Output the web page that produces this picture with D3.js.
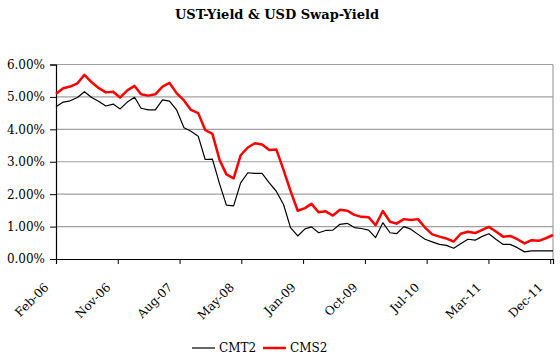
<!DOCTYPE html>
<html><head><meta charset="utf-8">
<script src="https://cdn.jsdelivr.net/npm/d3@7"></script>
<style>body{margin:0;background:#fff}svg{display:block}</style>
</head><body>
<svg id="c" width="560" height="358"></svg>
<script>
const title = "UST-Yield & USD Swap-Yield";
const seriesNames = ["CMT2", "CMS2"];
const seriesColors = ["#000000", "#ff0000"];
// monthly month-end observations, Feb-06 .. Dec-11
const firstMonth = new Date(2006, 1, 1);
const endMonth = new Date(2012, 0, 1);
const cmt2 = [4.70,4.84,4.88,4.98,5.16,4.98,4.86,4.72,4.78,4.63,
  4.84,4.99,4.65,4.60,4.60,4.91,4.87,4.59,4.05,3.94,
  3.79,3.07,3.08,2.31,1.66,1.64,2.35,2.66,2.64,2.64,
  2.35,2.09,1.68,0.97,0.71,0.93,0.99,0.81,0.88,0.89,
  1.07,1.10,0.97,0.94,0.89,0.66,1.12,0.81,0.78,1.00,
  0.92,0.76,0.61,0.53,0.45,0.42,0.33,0.47,0.61,0.58,
  0.69,0.78,0.61,0.45,0.45,0.35,0.22,0.25,0.25,0.25,0.25];
const cms2 = [5.10,5.27,5.32,5.42,5.68,5.45,5.27,5.14,5.16,4.98,
  5.20,5.34,5.08,5.04,5.08,5.32,5.43,5.11,4.89,4.60,
  4.50,3.98,3.86,3.05,2.61,2.49,3.20,3.44,3.57,3.53,
  3.36,3.38,2.75,2.10,1.49,1.57,1.70,1.44,1.47,1.34,
  1.52,1.49,1.36,1.30,1.29,1.04,1.48,1.15,1.09,1.23,
  1.20,1.23,0.97,0.76,0.69,0.63,0.54,0.78,0.84,0.80,
  0.89,0.99,0.85,0.69,0.71,0.61,0.48,0.58,0.56,0.64,0.74];
const yTickValues = [0, 1, 2, 3, 4, 5, 6];
const xTickLabels = ["Feb-06","Nov-06","Aug-07","May-08","Jan-09","Oct-09","Jul-10","Mar-11","Dec-11"];
const xTickStepDays = 265;

const months = d3.timeMonth.range(firstMonth, endMonth);
const dates = months.map(m => d3.timeDay.offset(d3.timeMonth.offset(m, 1), -1));

const pLeft = 56, pRight = 553, pTop = 64.5, pBottom = 259;
const svg = d3.select("#c");
const FONT = "'DejaVu Serif', serif";

const x = d3.scaleTime().domain([dates[0], dates[dates.length - 1]]).range([pLeft, pRight]);
const y = d3.scaleLinear().domain([0, 6]).range([pBottom, pTop]);

// gridlines
svg.append("g").selectAll("line").data(yTickValues.filter(v => v > 0)).join("line")
  .attr("x1", pLeft).attr("x2", pRight)
  .attr("y1", d => y(d)).attr("y2", d => y(d))
  .attr("stroke", "#a0a0a0").attr("stroke-width", 1.2);
svg.append("line").attr("x1", pRight).attr("x2", pRight).attr("y1", pTop).attr("y2", pBottom)
  .attr("stroke", "#a0a0a0").attr("stroke-width", 1.2);

// y axis
const yAxis = d3.axisLeft(y).tickValues(yTickValues).tickSize(6).tickPadding(5)
  .tickFormat(d => d3.format(".2f")(d) + "%");
const gy = svg.append("g").attr("transform", `translate(${pLeft},0)`).call(yAxis);
gy.select(".domain").attr("stroke", "#000").attr("stroke-width", 1.2);
gy.selectAll(".tick line").attr("stroke", "#000");
gy.selectAll("text").attr("font-family", FONT).attr("font-size", 12).attr("fill", "#000");

// x axis
const tickDates = xTickLabels.map((_, i) => d3.timeDay.offset(dates[0], i * xTickStepDays));
const xAxis = d3.axisBottom(x).tickValues(tickDates).tickSize(5).tickFormat((d, i) => xTickLabels[i]);
const gx = svg.append("g").attr("transform", `translate(0,${pBottom})`).call(xAxis);
gx.select(".domain").attr("stroke", "#000").attr("stroke-width", 1.2);
gx.selectAll(".tick line").attr("stroke", "#000");
gx.selectAll("text")
  .attr("font-family", FONT).attr("font-size", 12).attr("fill", "#000")
  .attr("text-anchor", "end").attr("dy", null).attr("y", null)
  .attr("transform", "translate(-7,29) rotate(-45)");

// lines
const line = d3.line().x((d, i) => x(dates[i])).y(d => y(d));
svg.append("path").datum(cmt2).attr("d", line).attr("fill", "none")
  .attr("stroke", seriesColors[0]).attr("stroke-width", 1.2).attr("stroke-linejoin", "round");
svg.append("path").datum(cms2).attr("d", line).attr("fill", "none")
  .attr("stroke", seriesColors[1]).attr("stroke-width", 2.5).attr("stroke-linejoin", "round");

// title
svg.append("text").attr("x", 277).attr("y", 19).attr("text-anchor", "middle")
  .attr("font-family", FONT).attr("font-weight", "bold").attr("font-size", 13)
  .text(title);

// legend
const lg = svg.append("g").attr("transform", "translate(192,348)");
const items = [{ name: seriesNames[0], color: seriesColors[0], w: 1.2, x: 0 },
               { name: seriesNames[1], color: seriesColors[1], w: 2.5, x: 71 }];
items.forEach(it => {
  lg.append("line").attr("x1", it.x).attr("x2", it.x + 23).attr("y1", 0).attr("y2", 0)
    .attr("stroke", it.color).attr("stroke-width", it.w);
  lg.append("text").attr("x", it.x + 27).attr("y", 0).attr("dy", "0.35em")
    .attr("font-family", FONT).attr("font-size", 12).text(it.name);
});
</script>
</body></html>
